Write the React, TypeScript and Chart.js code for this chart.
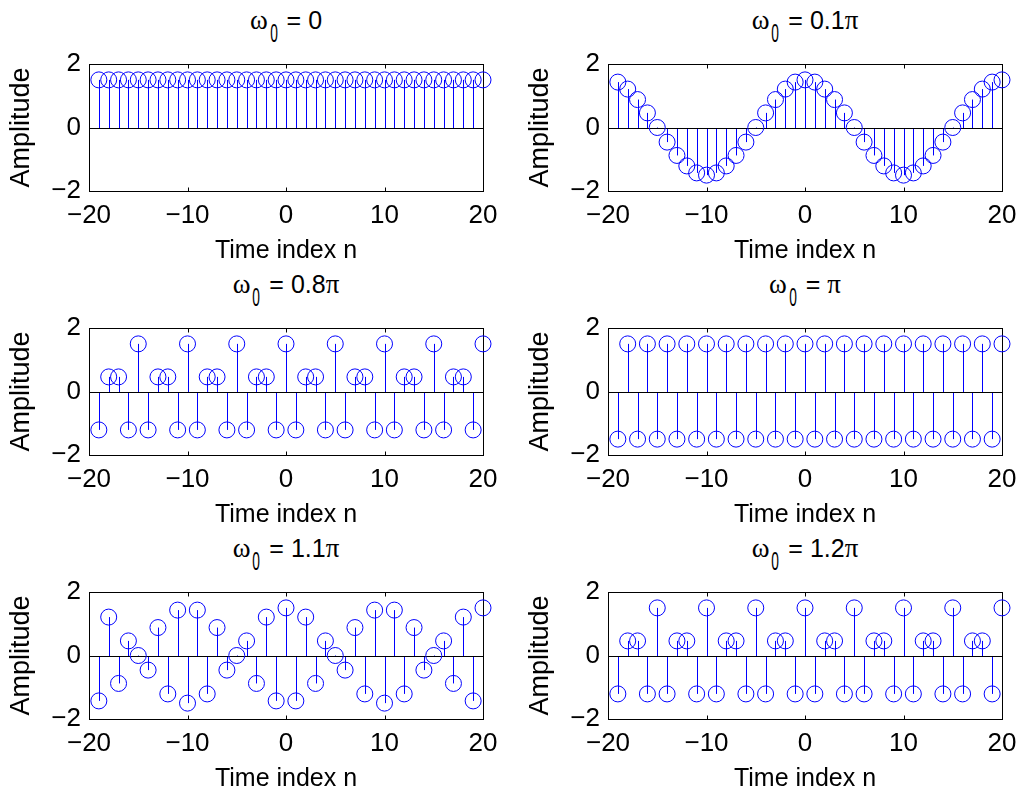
import React, { useEffect, useRef } from "react";
import { Chart, registerables } from "chart.js";

Chart.register(...registerables);

// ---- data ----
const nIndex = [-19, -18, -17, -16, -15, -14, -13, -12, -11, -10, -9, -8, -7, -6, -5, -4, -3, -2, -1, 0, 1, 2, 3, 4, 5, 6, 7, 8, 9, 10, 11, 12, 13, 14, 15, 16, 17, 18, 19, 20];

const amp_w0 = [1.5, 1.5, 1.5, 1.5, 1.5, 1.5, 1.5, 1.5, 1.5, 1.5, 1.5, 1.5, 1.5, 1.5, 1.5, 1.5, 1.5, 1.5, 1.5, 1.5, 1.5, 1.5, 1.5, 1.5, 1.5, 1.5, 1.5, 1.5, 1.5, 1.5, 1.5, 1.5, 1.5, 1.5, 1.5, 1.5, 1.5, 1.5, 1.5, 1.5];

const amp_w01 = [1.43, 1.21, 0.88, 0.46, 0, -0.46, -0.88, -1.21, -1.43, -1.5, -1.43, -1.21, -0.88, -0.46, 0, 0.46, 0.88, 1.21, 1.43, 1.5, 1.43, 1.21, 0.88, 0.46, 0, -0.46, -0.88, -1.21, -1.43, -1.5, -1.43, -1.21, -0.88, -0.46, 0, 0.46, 0.88, 1.21, 1.43, 1.5];

const amp_w08 = [-1.21, 0.46, 0.46, -1.21, 1.5, -1.21, 0.46, 0.46, -1.21, 1.5, -1.21, 0.46, 0.46, -1.21, 1.5, -1.21, 0.46, 0.46, -1.21, 1.5, -1.21, 0.46, 0.46, -1.21, 1.5, -1.21, 0.46, 0.46, -1.21, 1.5, -1.21, 0.46, 0.46, -1.21, 1.5, -1.21, 0.46, 0.46, -1.21, 1.5];

const amp_wpi = [-1.5, 1.5, -1.5, 1.5, -1.5, 1.5, -1.5, 1.5, -1.5, 1.5, -1.5, 1.5, -1.5, 1.5, -1.5, 1.5, -1.5, 1.5, -1.5, 1.5, -1.5, 1.5, -1.5, 1.5, -1.5, 1.5, -1.5, 1.5, -1.5, 1.5, -1.5, 1.5, -1.5, 1.5, -1.5, 1.5, -1.5, 1.5, -1.5, 1.5];

const amp_w11 = [-1.43, 1.21, -0.88, 0.46, 0, -0.46, 0.88, -1.21, 1.43, -1.5, 1.43, -1.21, 0.88, -0.46, 0, 0.46, -0.88, 1.21, -1.43, 1.5, -1.43, 1.21, -0.88, 0.46, 0, -0.46, 0.88, -1.21, 1.43, -1.5, 1.43, -1.21, 0.88, -0.46, 0, 0.46, -0.88, 1.21, -1.43, 1.5];

const amp_w12 = [-1.21, 0.46, 0.46, -1.21, 1.5, -1.21, 0.46, 0.46, -1.21, 1.5, -1.21, 0.46, 0.46, -1.21, 1.5, -1.21, 0.46, 0.46, -1.21, 1.5, -1.21, 0.46, 0.46, -1.21, 1.5, -1.21, 0.46, 0.46, -1.21, 1.5, -1.21, 0.46, 0.46, -1.21, 1.5, -1.21, 0.46, 0.46, -1.21, 1.5];

const titleValues = ["0", "0.1π", "0.8π", "π", "1.1π", "1.2π"];
const seriesList = [amp_w0, amp_w01, amp_w08, amp_wpi, amp_w11, amp_w12];
const xTicks = [-20, -10, 0, 10, 20];
const yTicks = [-2, 0, 2];
const xLabel = "Time index n";
const yLabel = "Amplitude";

// ---- layout ----
const FONT = "'Liberation Sans', Arial, Helvetica, sans-serif";
const SERIF = "'Liberation Serif', 'Times New Roman', serif";
const PLOT_W = 394;
const PLOT_H = 127;
const colLefts = [89, 608];
const rowTops = [64, 328, 592];
const Y_AXIS_W = 88;
const X_AXIS_H = 75;
const PAD_TOP = 12;
const PAD_RIGHT = 16;

const stemPlugin = {
  id: "stemPlugin",
  beforeDatasetsDraw(chart: any) {
    const { ctx, chartArea, scales } = chart;
    const x = scales.x;
    const y = scales.y;
    ctx.save();
    ctx.lineWidth = 1;
    const y0 = Math.round(y.getPixelForValue(0)) + 0.5;
    // stems
    ctx.strokeStyle = "#0000ff";
    const pts = chart.data.datasets[0].data as { x: number; y: number }[];
    ctx.beginPath();
    pts.forEach((p) => {
      const px = Math.round(x.getPixelForValue(p.x)) + 0.5;
      const py = y.getPixelForValue(p.y);
      ctx.moveTo(px, y0);
      ctx.lineTo(px, py);
    });
    ctx.stroke();
    // baseline
    ctx.strokeStyle = "#000000";
    ctx.beginPath();
    ctx.moveTo(chartArea.left, y0);
    ctx.lineTo(chartArea.right, y0);
    ctx.stroke();
    // box
    const l = Math.round(chartArea.left) + 0.5;
    const r = Math.round(chartArea.right) + 0.5;
    const t = Math.round(chartArea.top) + 0.5;
    const b = Math.round(chartArea.bottom) + 0.5;
    ctx.strokeRect(l, t, r - l, b - t);
    // inward ticks
    const TL = 4;
    ctx.beginPath();
    xTicks.forEach((v) => {
      const px = Math.round(x.getPixelForValue(v)) + 0.5;
      ctx.moveTo(px, b);
      ctx.lineTo(px, b - TL);
      ctx.moveTo(px, t);
      ctx.lineTo(px, t + TL);
    });
    yTicks.forEach((v) => {
      const py = Math.round(y.getPixelForValue(v)) + 0.5;
      ctx.moveTo(l, py);
      ctx.lineTo(l + TL, py);
      ctx.moveTo(r, py);
      ctx.lineTo(r - TL, py);
    });
    ctx.stroke();
    ctx.restore();
  },
};

const fmt = (v: number | string) => String(v).replace("-", "\u2212");

function StemPlot({ values, left, top }: { values: number[]; left: number; top: number }) {
  const ref = useRef<HTMLCanvasElement | null>(null);
  useEffect(() => {
    if (!ref.current) return;
    const chart = new Chart(ref.current, {
      type: "scatter",
      data: {
        datasets: [
          {
            data: nIndex.map((n, i) => ({ x: n, y: values[i] })),
            pointStyle: "circle",
            pointRadius: 8,
            pointBorderWidth: 1,
            pointBorderColor: "#0000ff",
            pointBackgroundColor: "rgba(0,0,0,0)",
            showLine: false,
            clip: false as any,
          },
        ],
      },
      options: {
        responsive: false,
        animation: false,
        events: [],
        layout: { padding: { top: PAD_TOP, right: PAD_RIGHT, left: 0, bottom: 0 } },
        plugins: { legend: { display: false }, tooltip: { enabled: false } },
        scales: {
          x: {
            type: "linear",
            min: -20,
            max: 20,
            afterFit: (s: any) => {
              s.height = X_AXIS_H;
              s.paddingLeft = 0;
              s.paddingRight = 0;
            },
            afterBuildTicks: (s: any) => {
              s.ticks = xTicks.map((v) => ({ value: v }));
            },
            grid: { display: false, drawTicks: false },
            border: { display: false },
            ticks: {
              color: "#000",
              padding: 9,
              maxRotation: 0,
              autoSkip: false,
              font: { family: FONT, size: 26 },
              callback: (v: any) => fmt(v),
            },
            title: {
              display: true,
              text: xLabel,
              color: "#000",
              font: { family: FONT, size: 25, lineHeight: 1.2 },
              padding: { top: 0, bottom: 0 },
            },
          },
          y: {
            type: "linear",
            min: -2,
            max: 2,
            afterFit: (s: any) => {
              s.width = Y_AXIS_W;
              s.paddingTop = 0;
              s.paddingBottom = 0;
            },
            afterBuildTicks: (s: any) => {
              s.ticks = yTicks.map((v) => ({ value: v }));
            },
            grid: { display: false, drawTicks: false },
            border: { display: false },
            ticks: {
              color: "#000",
              padding: 8,
              autoSkip: false,
              font: { family: FONT, size: 26 },
              callback: (v: any) => fmt(v),
            },
            title: {
              display: true,
              text: yLabel,
              color: "#000",
              font: { family: FONT, size: 27, lineHeight: 1.2 },
              padding: { top: 4, bottom: 0 },
            },
          },
        },
      },
      plugins: [stemPlugin],
    });
    return () => chart.destroy();
  }, [values]);

  return (
    <canvas
      ref={ref}
      width={Y_AXIS_W + PLOT_W + PAD_RIGHT}
      height={PAD_TOP + PLOT_H + X_AXIS_H}
      style={{
        position: "absolute",
        left: left - Y_AXIS_W,
        top: top - PAD_TOP,
        width: Y_AXIS_W + PLOT_W + PAD_RIGHT,
        height: PAD_TOP + PLOT_H + X_AXIS_H,
      }}
    />
  );
}

export default function App() {
  const items: React.ReactNode[] = [];
  seriesList.forEach((vals, i) => {
    const col = i % 2;
    const row = Math.floor(i / 2);
    const left = colLefts[col];
    const top = rowTops[row];
    const tv = titleValues[i];
    const hasPi = tv.endsWith("π");
    const num = hasPi ? tv.slice(0, -1) : tv;
    items.push(
      <div
        key={"t" + i}
        style={{
          position: "absolute",
          left,
          width: PLOT_W,
          top: top - 59,
          height: 30,
          lineHeight: "30px",
          textAlign: "center",
          fontFamily: FONT,
          fontSize: 25,
          color: "#000",
          whiteSpace: "nowrap",
        }}
      >
        <span style={{ fontFamily: SERIF, fontSize: 27 }}>ω</span>
        <span
          style={{
            display: "inline-block",
            position: "relative",
            top: 13,
            transform: "scale(0.55, 1.05)",
            margin: "0 -1px",
          }}
        >
          0
        </span>
        {" = " + num}
        {hasPi ? <span style={{ fontFamily: SERIF, fontSize: 27 }}>π</span> : null}
      </div>
    );
    items.push(<StemPlot key={"p" + i} values={vals} left={left} top={top} />);
  });
  return (
    <div style={{ position: "absolute", left: 0, top: 0, width: 1020, height: 795, background: "#fff" }}>
      {items}
    </div>
  );
}
